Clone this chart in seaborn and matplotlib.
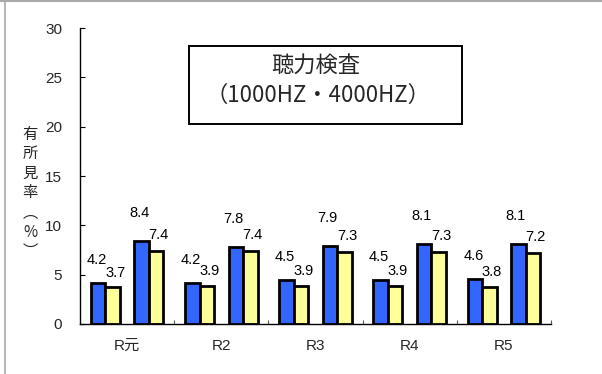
import numpy as np
import pandas as pd
import matplotlib
matplotlib.use("Agg")
import matplotlib.pyplot as plt
from matplotlib.lines import Line2D
from matplotlib.patches import Rectangle
import seaborn as sns

# 年度と各系列の有所見率（%）
years = ["R元", "R2", "R3", "R4", "R5"]
series_names = ["系列1", "系列2", "空白", "系列3", "系列4"]
s1 = [4.2, 4.2, 4.5, 4.5, 4.6]
s2 = [3.7, 3.9, 3.9, 3.9, 3.8]
s3 = [8.4, 7.8, 7.9, 8.1, 8.1]
s4 = [7.4, 7.4, 7.3, 7.3, 7.2]
yticks = [0, 5, 10, 15, 20, 25, 30]

colors = {"系列1": "#3366FF", "系列2": "#FFFF99", "空白": "white",
          "系列3": "#3366FF", "系列4": "#FFFF99"}

sns.set_theme(style="white")
plt.rcParams["font.family"] = ["Liberation Sans", "Noto Sans CJK JP"]

series_values = {"系列1": s1, "系列2": s2, "系列3": s3, "系列4": s4}
rows = []
for name, vals in series_values.items():
    for y, v in zip(years, vals):
        rows.append({"year": y, "series": name, "value": v})
df = pd.DataFrame(rows)

fig = plt.figure(figsize=(6.02, 3.74), dpi=100)
ax = fig.add_axes([0.133, 0.1337, 0.782, 0.7913])

sns.barplot(data=df, x="year", y="value", hue="series", order=years,
            hue_order=series_names, palette=colors, width=0.77,
            edgecolor="black", linewidth=2.0, legend=False, ax=ax,
            errorbar=None, saturation=1)

ax.set_xlim(-0.5, 4.5)
ax.set_ylim(0, 30)
ax.set_yticks(yticks)
ax.set_xlabel("")
ax.set_ylabel("")

for side in ["top", "right"]:
    ax.spines[side].set_visible(False)
for side in ["left", "bottom"]:
    ax.spines[side].set_color("black")
    ax.spines[side].set_linewidth(1.0)

ax.tick_params(axis="y", direction="in", length=3.5, width=0.8, color="black",
               labelsize=11, pad=13, left=True)
ax.tick_params(axis="x", which="major", length=0, labelsize=11, pad=11)
ax.set_xticks(np.arange(0.5, 5.0, 1.0), minor=True)
ax.tick_params(axis="x", which="minor", direction="in", length=3,
               width=0.8, color="#555555", bottom=True)

# データラベル
offsets = {"系列1": (-1.5, 2.3), "系列2": (2.5, 1.5),
           "系列3": (-2.5, 2.85), "系列4": (2.5, 1.65)}
filled = [c for c in ax.containers if len(c.patches) > 0]
for cont, name in zip(filled, ["系列1", "系列2", "系列3", "系列4"]):
    dx_px, dy = offsets[name]
    for bar, v in zip(cont.patches, series_values[name]):
        cx = bar.get_x() + bar.get_width() / 2
        ax.annotate(f"{v:.1f}", xy=(cx, v + dy), xytext=(dx_px, 0),
                    textcoords="offset pixels", ha="center", va="center",
                    fontsize=10.5, color="black")

# 縦書きの軸ラベル
fig.text(30 / 602, 1 - 193 / 374, "有\n所\n見\n率\n︵\n%\n︶",
         ha="center", va="center", fontsize=11, linespacing=1.2,
         family=["Noto Sans CJK JP", "DejaVu Sans"])

# タイトル枠
fig.add_artist(Rectangle((189 / 602, 1 - 124 / 374), 273 / 602, 78 / 374,
                         transform=fig.transFigure, fill=False,
                         edgecolor="black", linewidth=1.4))
fig.text(316 / 602, 1 - 66 / 374, "聴力検査", ha="center", va="center",
         fontsize=16, family=["Noto Sans CJK JP", "DejaVu Sans"])
fig.text(318 / 602, 1 - 95 / 374, "（1000HZ・4000HZ）", ha="center",
         va="center", fontsize=16, family=["Noto Sans CJK JP", "DejaVu Sans"])

# グラフエリアの枠線
fig.add_artist(Line2D([4.5 / 602, 4.5 / 602], [0, 1], transform=fig.transFigure,
                      color="#AAAAAA", linewidth=1.2))
fig.add_artist(Line2D([0, 1], [1 - 0.8 / 374, 1 - 0.8 / 374],
                      transform=fig.transFigure, color="#AAAAAA", linewidth=1.5))

fig.savefig("out.png", dpi=100)
